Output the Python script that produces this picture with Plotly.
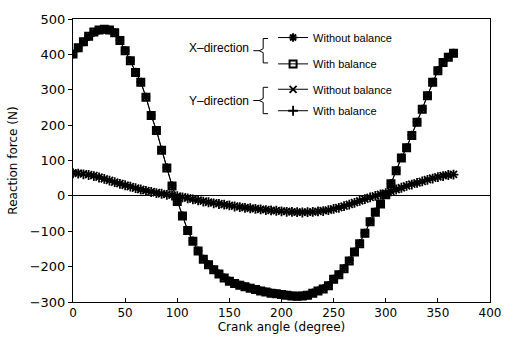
import plotly.graph_objects as go

# Crank angle samples (degree)
crank_angle = list(range(0, 370, 5))

# X-direction reaction force (N)
x_without_balance = [400, 418, 435, 450, 462, 468, 470, 469, 462, 440, 411, 383, 350, 322, 280, 228,
                     186, 130, 80, 29, -15, -56, -97, -127, -155, -178, -194, -208, -220, -231,
                     -240, -247, -252, -256, -260, -264, -268, -271, -274, -276, -278, -280, -282,
                     -283, -282, -280, -274, -268, -262, -253, -235, -222, -205, -183, -158, -134,
                     -105, -72, -45, -22, 4, 35, 72, 108, 137, 172, 209, 246, 284, 322, 355, 378,
                     393, 404]
x_with_balance = [401, 419, 436, 451, 463, 469, 471, 469, 461, 439, 410, 382, 349, 321, 279, 227,
                  185, 129, 79, 28, -16, -57, -98, -128, -156, -179, -195, -209, -221, -232,
                  -241, -248, -253, -257, -261, -265, -269, -272, -275, -277, -279, -281, -283,
                  -284, -283, -281, -275, -269, -263, -254, -236, -223, -206, -184, -159, -135,
                  -106, -73, -46, -23, 3, 34, 71, 107, 136, 171, 208, 245, 283, 321, 354, 377,
                  392, 403]

# Y-direction reaction force (N)
y_without_balance = [65, 64, 62, 60, 57, 53, 48, 44, 39, 35, 30, 26, 22, 18, 15, 12, 9, 6, 4, 2,
                     -1, -3, -6, -9, -12, -15, -18, -20, -22, -25, -27, -29, -31, -33, -35, -36,
                     -38, -39, -41, -42, -43, -44, -45, -46, -46, -46, -45, -44, -42, -40, -37,
                     -33, -29, -24, -19, -14, -9, -4, 0, 4, 8, 13, 18, 23, 28, 33, 37, 41, 46, 50,
                     54, 57, 59, 61]
y_with_balance = [64, 63, 61, 59, 56, 52, 48, 43, 39, 34, 30, 26, 22, 18, 14, 11, 8, 6, 3, 1,
                  -1, -4, -7, -10, -13, -16, -18, -21, -23, -25, -27, -30, -32, -34, -35, -37,
                  -38, -40, -41, -42, -44, -45, -45, -46, -47, -46, -45, -44, -43, -40, -37,
                  -34, -29, -25, -20, -14, -9, -4, 0, 4, 8, 13, 18, 23, 28, 32, 37, 41, 45, 49,
                  53, 56, 59, 60]

FONT = "Liberation Sans, Arial, sans-serif"
AXIS_FONT = "DejaVu Sans, sans-serif"
LEGEND_TEXT = "Without balance", "With balance"

fig = go.Figure()

series = [
    (x_without_balance, LEGEND_TEXT[0], "asterisk-open", 7, 2.0, "legend"),
    (x_with_balance, LEGEND_TEXT[1], "square-open", 7, 2.0, "legend2"),
    (y_without_balance, LEGEND_TEXT[0], "x-thin-open", 7, 1.8, "legend3"),
    (y_with_balance, LEGEND_TEXT[1], "cross-thin-open", 7, 1.8, "legend4"),
]
for values, name, symbol, size, lw, leg in series:
    fig.add_trace(go.Scatter(
        x=crank_angle, y=values, name=name, mode="lines+markers",
        line=dict(color="black", width=1),
        marker=dict(symbol=symbol, size=size, color="black",
                    line=dict(color="black", width=lw)),
        legend=leg,
    ))

L, R, T, B = 71, 21, 13, 40
W, H = 513, 343
PW, PH = W - L - R, H - T - B


def px_x(px):
    return (px - L) / PW


def px_y(py):
    return (H - B - py) / PH


def legend_box(py):
    return dict(x=px_x(273), y=px_y(py), xanchor="left", yanchor="middle",
                bgcolor="rgba(0,0,0,0)", borderwidth=0, itemwidth=30,
                font=dict(family=FONT, size=11, color="black"))


fig.update_layout(
    width=W, height=H,
    margin=dict(l=L, r=R, t=T, b=B),
    paper_bgcolor="white", plot_bgcolor="white",
    font=dict(family=FONT, size=12, color="black"),
    showlegend=True,
    legend=legend_box(32),
    legend2=legend_box(59),
    legend3=legend_box(85),
    legend4=legend_box(107),
    xaxis=dict(range=[0, 400], dtick=50, tick0=0, showgrid=False, zeroline=False,
               showline=True, linecolor="black", linewidth=1, mirror=True,
               ticks="inside", ticklen=4, tickcolor="black",
               tickfont=dict(family=AXIS_FONT, size=12),
               title=dict(text="Crank angle (degree)", standoff=2,
                          font=dict(family=AXIS_FONT, size=12))),
    yaxis=dict(range=[-300, 500], dtick=100, tick0=0, showgrid=False,
               zeroline=True, zerolinecolor="black", zerolinewidth=1,
               showline=True, linecolor="black", linewidth=1, mirror=True,
               ticks="outside", ticklen=4, tickcolor="black",
               tickfont=dict(family=AXIS_FONT, size=13),
               title=dict(text="Reaction force (N)", standoff=9,
                          font=dict(family=AXIS_FONT, size=12))),
)

# Group labels with braces
for label, cy, top, bot in [("X\u2013direction", 43, 33, 58), ("Y\u2013direction", 97, 83, 110)]:
    fig.add_annotation(xref="paper", yref="paper", x=px_x(251), y=px_y(cy),
                       xanchor="right", yanchor="middle", text=label, showarrow=False,
                       font=dict(family=FONT, size=12, color="black"))
    mid = (top + bot) / 2
    brace = (f"M {px_x(268)},{px_y(top)} L {px_x(263)},{px_y(top)} "
             f"L {px_x(263)},{px_y(mid - 2)} L {px_x(259)},{px_y(mid)} "
             f"L {px_x(263)},{px_y(mid + 2)} L {px_x(263)},{px_y(bot)} "
             f"L {px_x(268)},{px_y(bot)}")
    fig.add_shape(type="path", xref="paper", yref="paper", path=brace,
                  line=dict(color="black", width=1))
    fig.add_shape(type="line", xref="paper", yref="paper",
                  x0=px_x(253), x1=px_x(259), y0=px_y(mid), y1=px_y(mid),
                  line=dict(color="black", width=1))

fig.write_html("out.html")
